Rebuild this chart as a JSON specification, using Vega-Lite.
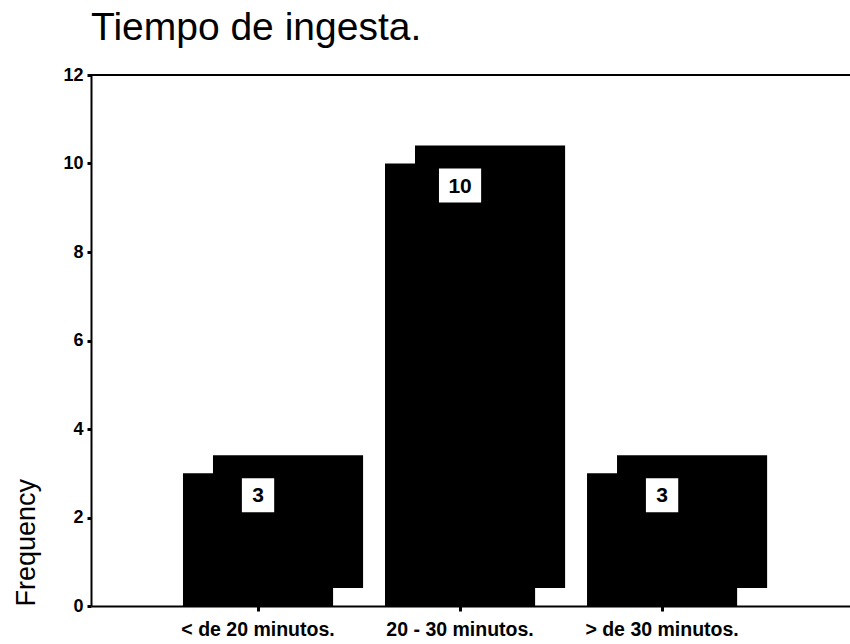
{
  "$schema": "https://vega.github.io/schema/vega-lite/v6.json",
  "width": 759,
  "height": 531,
  "autosize": {"type": "none"},
  "padding": {"left": 91, "top": 75, "right": 0, "bottom": 38},
  "background": "white",
  "config": {"view": {"stroke": null}, "font": "Liberation Sans"},
  "title": {
    "text": "Tiempo de ingesta.",
    "anchor": "start",
    "frame": "group",
    "fontSize": 39,
    "fontWeight": "normal",
    "font": "Liberation Sans",
    "color": "black",
    "offset": 18
  },
  "data": {
    "values": [
      {"cat": "< de 20 minutos.", "value": 3},
      {"cat": "20 - 30 minutos.", "value": 10},
      {"cat": "> de 30 minutos.", "value": 3}
    ]
  },
  "layer": [
    {
      "mark": {"type": "bar", "color": "black", "xOffset": 30, "yOffset": -18, "y2Offset": -18},
      "encoding": {
        "x": {
          "field": "cat",
          "type": "nominal",
          "sort": null,
          "scale": {"paddingInner": 0.257, "paddingOuter": 0.507, "align": 0.449},
          "axis": {
            "title": null,
            "labelAngle": 0,
            "labelFontSize": 19.5,
            "labelFontWeight": "bold",
            "labelColor": "black",
            "labelPadding": 9,
            "domainColor": "black",
            "domainWidth": 2,
            "tickColor": "black",
            "tickWidth": 3,
            "tickSize": 5
          }
        },
        "y": {
          "field": "value",
          "type": "quantitative",
          "scale": {"domain": [0, 12], "nice": false},
          "axis": {
            "values": [0, 2, 4, 6, 8, 10, 12],
            "grid": false,
            "title": "Frequency",
            "titleAnchor": "start",
            "titleFontSize": 27,
            "titleFontWeight": "normal",
            "titleColor": "black",
            "titlePadding": 22,
            "labelFontSize": 18,
            "labelFontWeight": "bold",
            "labelColor": "black",
            "labelPadding": 4,
            "domainColor": "black",
            "domainWidth": 2,
            "tickColor": "black",
            "tickWidth": 3,
            "tickSize": 4
          }
        }
      }
    },
    {
      "mark": {"type": "bar", "color": "black"},
      "encoding": {
        "x": {"field": "cat", "type": "nominal", "sort": null},
        "y": {"field": "value", "type": "quantitative"}
      }
    },
    {
      "mark": {"type": "rule", "color": "black", "strokeWidth": 2},
      "encoding": {"y": {"datum": 12}}
    },
    {
      "mark": {"type": "point", "filled": true, "fill": "white", "opacity": 1, "strokeWidth": 0, "size": 1156, "yOffset": 22},
      "encoding": {
        "x": {"field": "cat", "type": "nominal", "sort": null},
        "y": {"field": "value", "type": "quantitative"},
        "shape": {
          "condition": {"test": "datum.value >= 10", "value": "M-1.24,-1H1.24V1H-1.24Z"},
          "value": "M-0.95,-1H0.95V1H-0.95Z"
        }
      }
    },
    {
      "mark": {"type": "text", "fontSize": 21, "fontWeight": "bold", "color": "black", "baseline": "middle", "dy": 23},
      "encoding": {
        "x": {"field": "cat", "type": "nominal", "sort": null},
        "y": {"field": "value", "type": "quantitative"},
        "text": {"field": "value", "type": "quantitative"}
      }
    }
  ]
}
